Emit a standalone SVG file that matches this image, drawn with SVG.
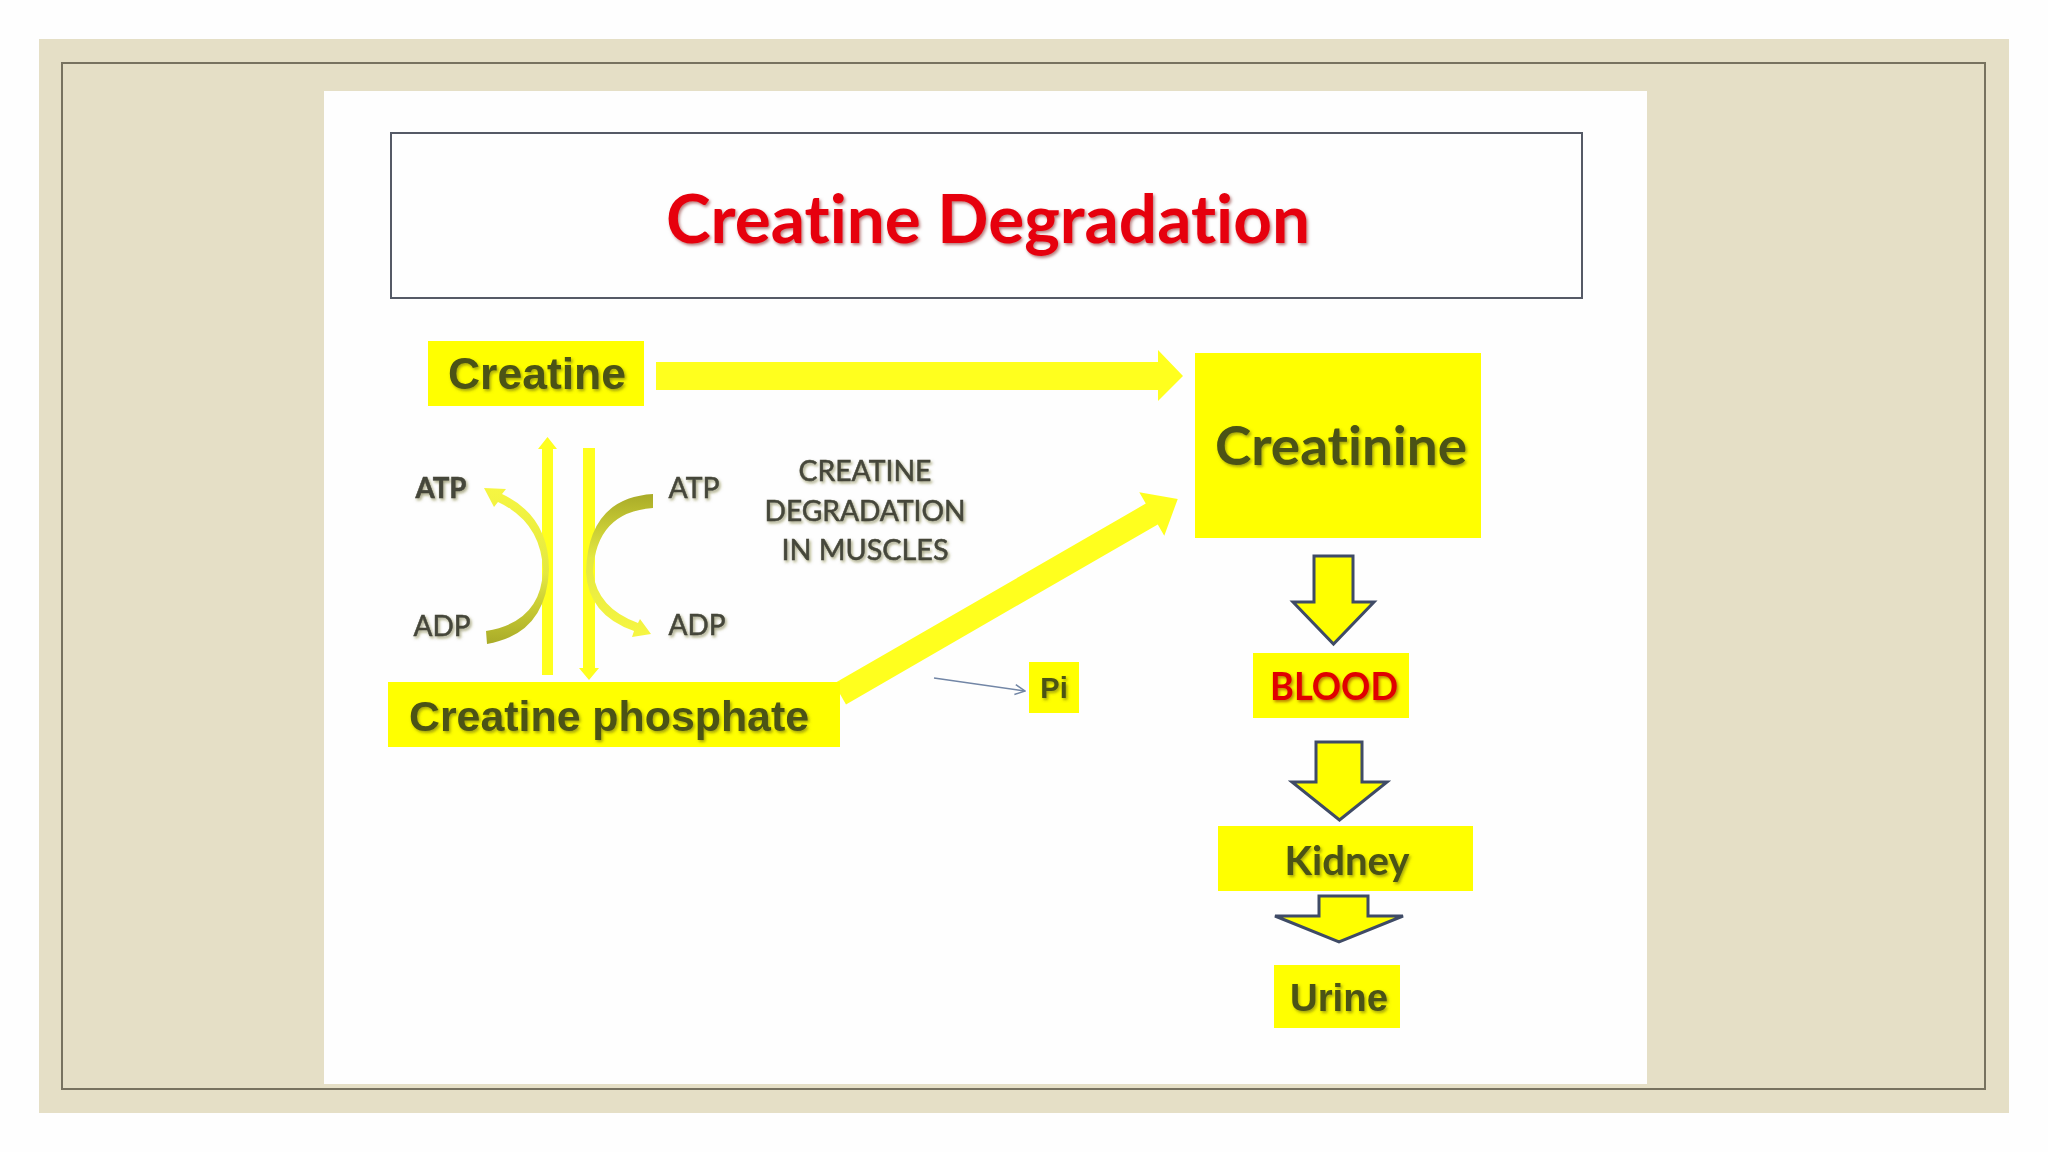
<svg xmlns="http://www.w3.org/2000/svg" width="2048" height="1152" viewBox="0 0 2048 1152">
<defs>
<style>
.arial{font-family:"Liberation Sans",Arial,sans-serif;font-weight:bold}
.cal{font-family:Lato,"Open Sans",sans-serif;font-variant-ligatures:none;font-feature-settings:"liga" 0,"clig" 0}
.olive{fill:#4b5313}
.grey{fill:#45463a;stroke:#45463a;stroke-width:0.5}
.box{fill:#ffff00}
.block{fill:#ffff00;stroke:#3f4b66;stroke-width:3;stroke-linejoin:miter}
.bar{fill:#ffff1e}
</style>
<filter id="sh" x="-10%" y="-30%" width="120%" height="160%">
<feDropShadow dx="1.5" dy="2" stdDeviation="1.6" flood-color="#5a5a10" flood-opacity="0.55"/>
</filter>
<filter id="shr" x="-10%" y="-30%" width="120%" height="160%">
<feDropShadow dx="1.5" dy="2" stdDeviation="1.6" flood-color="#700000" flood-opacity="0.5"/>
</filter>
<linearGradient id="gl" gradientUnits="userSpaceOnUse" x1="0" y1="644" x2="0" y2="488">
<stop offset="0" stop-color="#a9ab28"/>
<stop offset="0.45" stop-color="#e4e840"/>
<stop offset="1" stop-color="#f6f642"/>
</linearGradient>
<linearGradient id="gr" gradientUnits="userSpaceOnUse" x1="0" y1="494" x2="0" y2="636">
<stop offset="0" stop-color="#a9ab28"/>
<stop offset="0.45" stop-color="#e4e840"/>
<stop offset="1" stop-color="#f6f642"/>
</linearGradient>
<marker id="thin" viewBox="0 0 12 12" refX="11" refY="6" markerWidth="12" markerHeight="12" markerUnits="userSpaceOnUse" orient="auto">
<path d="M1,1 L11,6 L1,11" fill="none" stroke="#7286a6" stroke-width="1.5"/>
</marker>
</defs>

<rect width="2048" height="1152" fill="#fefefe"/>
<rect x="39" y="39" width="1970" height="1074" fill="#e5dfc6"/>
<rect x="324" y="91" width="1323" height="993" fill="#fefefe"/>
<rect x="62" y="63" width="1923" height="1026" fill="none" stroke="#77725f" stroke-width="2"/>

<g id="title">
<rect x="391" y="133" width="1191" height="165" fill="#fefefe" stroke="#555a66" stroke-width="2"/>
<text x="988" y="243" text-anchor="middle" class="cal" font-weight="bold" font-size="67" fill="#e6000e" filter="url(#shr)" textLength="644" lengthAdjust="spacingAndGlyphs">Creatine Degradation</text>
</g>

<g id="connectors">
<polygon class="bar" points="656,362 1158,362 1158,350 1183,376 1158,401 1158,390 656,390"/>
<g transform="translate(840,694) rotate(-30)">
<polygon class="bar" points="0,-12 360,-12 360,-25 390,0 360,25 360,12 0,12"/>
</g>
<polygon class="bar" points="542,449 538,449 547.5,437 557,449 553,449 553,675 542,675"/>
<polygon class="bar" points="583,448 595,448 595,668 599,668 589,680 579,668 583,668"/>
<path fill="url(#gl)" d="M487,644 Q546,634 549,570 Q549,516 502,494 L506,489 L484,488 L494,507 L498,502 Q541,522 543,570 Q541,622 486,631 Z"/>
<path fill="url(#gr)" d="M653,494 Q588,498 586,572 Q588,615 634,631 L632,637 L651,634 L640,619 L638,623 Q597,608 593,572 Q596,512 653,508 Z"/>
<line x1="934" y1="678" x2="1025" y2="691" stroke="#7286a6" stroke-width="1.5" marker-end="url(#thin)"/>
<polygon class="block" points="1314,556 1353,556 1353,602 1374,602 1333.5,644 1293,602 1314,602"/>
<polygon class="block" points="1316,742 1362,742 1362,782 1387,782 1339.5,820 1292,782 1316,782"/>
<polygon class="block" points="1319,896 1368,896 1368,916 1403,916 1339,942 1275,916 1319,916"/>
</g>

<g id="creatine">
<rect class="box" x="428" y="341" width="216" height="65"/>
<text x="537" y="389" text-anchor="middle" class="arial olive" font-size="44" filter="url(#sh)" textLength="178" lengthAdjust="spacingAndGlyphs">Creatine</text>
</g>

<g id="creatine-phosphate">
<rect class="box" x="388" y="682" width="452" height="65"/>
<text x="609" y="731" text-anchor="middle" class="arial olive" font-size="43" filter="url(#sh)" textLength="400" lengthAdjust="spacingAndGlyphs">Creatine phosphate</text>
</g>

<g id="creatinine">
<rect class="box" x="1195" y="353" width="286" height="185"/>
<text x="1341" y="465" text-anchor="middle" class="cal olive" font-weight="bold" font-size="53" filter="url(#sh)" textLength="252" lengthAdjust="spacingAndGlyphs">Creatinine</text>
</g>

<g id="labels">
<text x="441" y="498" text-anchor="middle" class="cal grey" font-weight="bold" font-size="28" filter="url(#sh)" textLength="51" lengthAdjust="spacingAndGlyphs">ATP</text>
<text x="442" y="636" text-anchor="middle" class="cal grey" font-size="28" filter="url(#sh)" textLength="57" lengthAdjust="spacingAndGlyphs">ADP</text>
<text x="694" y="498" text-anchor="middle" class="cal grey" font-size="28" filter="url(#sh)" textLength="51" lengthAdjust="spacingAndGlyphs">ATP</text>
<text x="697" y="635" text-anchor="middle" class="cal grey" font-size="28" filter="url(#sh)" textLength="57" lengthAdjust="spacingAndGlyphs">ADP</text>
</g>

<g id="muscle-label">
<text x="865" y="481" text-anchor="middle" class="cal grey" font-size="28" filter="url(#sh)" textLength="133" lengthAdjust="spacingAndGlyphs">CREATINE</text>
<text x="865" y="521" text-anchor="middle" class="cal grey" font-size="28" filter="url(#sh)" textLength="201" lengthAdjust="spacingAndGlyphs">DEGRADATION</text>
<text x="865" y="560" text-anchor="middle" class="cal grey" font-size="28" filter="url(#sh)" textLength="167" lengthAdjust="spacingAndGlyphs">IN MUSCLES</text>
</g>

<g id="pi">
<rect class="box" x="1029" y="662" width="50" height="51"/>
<text x="1054" y="698" text-anchor="middle" class="arial olive" font-size="29" filter="url(#sh)">Pi</text>
</g>

<g id="blood">
<rect class="box" x="1253" y="653" width="156" height="65"/>
<text x="1334" y="700" text-anchor="middle" class="cal" font-weight="bold" font-size="38" fill="#e00000" filter="url(#shr)" textLength="128" lengthAdjust="spacingAndGlyphs">BLOOD</text>
</g>

<g id="kidney">
<rect class="box" x="1218" y="826" width="255" height="65"/>
<text x="1347" y="875" text-anchor="middle" class="cal olive" font-weight="bold" font-size="40" filter="url(#sh)" textLength="125" lengthAdjust="spacingAndGlyphs">Kidney</text>
</g>

<g id="urine">
<rect class="box" x="1274" y="965" width="126" height="63"/>
<text x="1339" y="1011" text-anchor="middle" class="arial olive" font-size="38" filter="url(#sh)" textLength="98" lengthAdjust="spacingAndGlyphs">Urine</text>
</g>
</svg>
